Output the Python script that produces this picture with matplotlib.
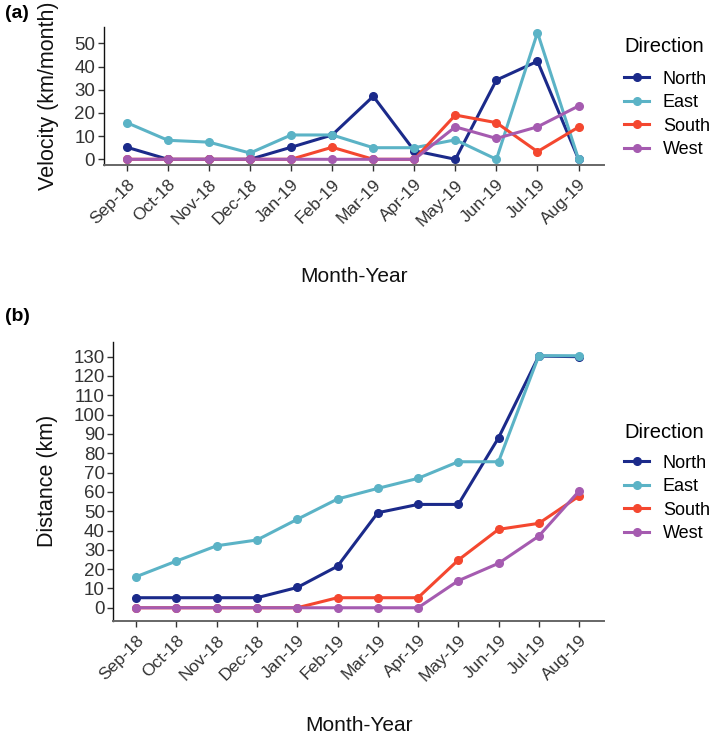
import matplotlib
matplotlib.use("Agg")
import matplotlib.pyplot as plt
from matplotlib.lines import Line2D

plt.rcParams['font.family'] = ['Liberation Sans', 'DejaVu Sans']

months = ["Sep-18", "Oct-18", "Nov-18", "Dec-18", "Jan-19", "Feb-19",
          "Mar-19", "Apr-19", "May-19", "Jun-19", "Jul-19", "Aug-19"]
directions = ["North", "East", "South", "West"]
colors = {"North": "#1B2A8A", "East": "#5BB3C6", "South": "#F4472F", "West": "#A55BB0"}

# Panel (a): velocity (km/month)
vel_north = [5.2, 0, 0, 0, 5.2, 10.5, 27.2, 3.7, 0, 34.2, 42.3, 0]
vel_east = [15.8, 8.2, 7.4, 2.7, 10.5, 10.5, 5.0, 5.0, 8.4, 0, 54.7, 0]
vel_south = [0, 0, 0, 0, 0, 5.2, 0, 0, 19.1, 15.8, 3.3, 13.9]
vel_west = [0, 0, 0, 0, 0, 0, 0, 0, 14.0, 9.0, 14.0, 23.0]

# Panel (b): cumulative distance (km)
dist_north = [5.2, 5.2, 5.2, 5.2, 10.5, 21.5, 49.2, 53.5, 53.5, 88.0, 130.3, 130.0]
dist_east = [16.1, 24.2, 32.1, 35.1, 45.8, 56.3, 61.8, 67.0, 75.6, 75.6, 130.5, 130.5]
dist_south = [0, 0, 0, 0, 0, 5.2, 5.2, 5.2, 24.7, 40.6, 43.7, 57.8]
dist_west = [0, 0, 0, 0, 0, 0, 0, 0, 14.0, 23.0, 37.1, 60.4]

vel = {"North": vel_north, "East": vel_east, "South": vel_south, "West": vel_west}
dist = {"North": dist_north, "East": dist_east, "South": dist_south, "West": dist_west}

W, H = 709, 736
fig = plt.figure(figsize=(W / 100, H / 100), dpi=100)

def px_axes(l, r, t, b):
    return fig.add_axes([l / W, 1 - b / H, (r - l) / W, (b - t) / H])

def style(ax, yticks, ylim, ylabel, xlabelpad):
    x = list(range(len(months)))
    ax.set_xlim(-0.57, 11.62)
    ax.set_ylim(*ylim)
    ax.set_xticks(x)
    ax.set_xticklabels(months, rotation=45, ha='right', va='top',
                       rotation_mode='anchor', fontsize=12.5, color='#333333')
    ax.set_yticks(yticks)
    ax.set_yticklabels([str(v) for v in yticks], fontsize=13.5, color='#333333')
    for s in ['top', 'right']:
        ax.spines[s].set_visible(False)
    ax.spines['left'].set_color('#111111')
    ax.spines['left'].set_linewidth(1.0)
    ax.spines['bottom'].set_color('#666666')
    ax.spines['bottom'].set_linewidth(1.4)
    ax.tick_params(axis='both', length=4, width=1.0, color='#333333')
    ax.tick_params(axis='x', pad=4.5)
    ax.tick_params(axis='y', pad=2)
    ax.set_ylabel(ylabel, fontsize=15.5, color='#111111', labelpad=11)
    ax.set_xlabel("Month-Year", fontsize=15, color='#111111', labelpad=xlabelpad)

def draw(ax, data):
    x = list(range(len(months)))
    for d in directions:
        ax.plot(x, data[d], color=colors[d], lw=2.2, marker='o', ms=5.5,
                solid_joinstyle='round', zorder=3)

def legend(ax, fig_y, sep):
    handles = [Line2D([0], [0], color=colors[d], lw=2.2, marker='o', ms=5.5)
               for d in directions]
    leg = ax.legend(handles, directions, title="Direction", loc='upper left',
                    bbox_to_anchor=(624 / W, 1 - fig_y / H),
                    bbox_transform=fig.transFigure, frameon=False, fontsize=13,
                    title_fontsize=14.5, handlelength=1.4, handletextpad=0.75,
                    labelspacing=0.36, borderaxespad=0, borderpad=0)
    leg._legend_box.align = "left"
    leg._legend_box.sep = sep

ax1 = px_axes(103.5, 604, 27, 165)
draw(ax1, vel)
style(ax1, [0, 10, 20, 30, 40, 50], (-2.46, 57.1), "Velocity (km/month)", 27.5)
legend(ax1, 37, 10.5)

ax2 = px_axes(113.3, 604, 342, 620.7)
draw(ax2, dist)
style(ax2, list(range(0, 131, 10)), (-6.7, 137.6), "Distance (km)", 23)
legend(ax2, 422.5, 9.5)

fig.text(5 / W, 1 - 14 / H, "(a)", fontsize=14, fontweight='bold', va='center', ha='left')
fig.text(5 / W, 1 - 317 / H, "(b)", fontsize=14, fontweight='bold', va='center', ha='left')

fig.savefig("out.png", dpi=100, facecolor='white')
